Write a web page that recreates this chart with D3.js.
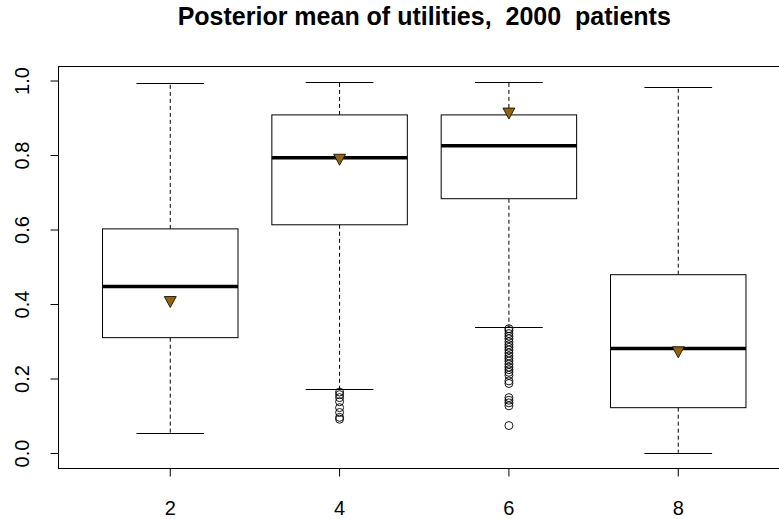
<!DOCTYPE html>
<html><head><meta charset="utf-8">
<script src="https://cdn.jsdelivr.net/npm/d3@7"></script>
<style>body{margin:0;background:#fff}svg{display:block}</style>
</head><body>
<script>
const title = "Posterior mean of utilities,  2000  patients";
const positions = [2, 4, 6, 8];
const whiskLow = [0.056, 0.172, 0.340, 0.002];
const q1 = [0.311, 0.614, 0.684, 0.123];
const median = [0.448, 0.794, 0.826, 0.282];
const q3 = [0.603, 0.909, 0.909, 0.480];
const whiskHigh = [0.995, 0.997, 0.997, 0.984];
const means = [0.408, 0.790, 0.914, 0.273];
const outliers = [
  [],
  [0.165, 0.158, 0.150, 0.139, 0.123, 0.110, 0.097, 0.092],
  [0.335, 0.330, 0.322, 0.315, 0.308, 0.300, 0.292, 0.285, 0.278, 0.270, 0.262, 0.255, 0.248, 0.240, 0.232, 0.225, 0.218, 0.210, 0.195, 0.188, 0.150, 0.143, 0.136, 0.128, 0.075],
  []
];
const yTicks = [0, 0.2, 0.4, 0.6, 0.8, 1.0];
const xTicks = [2, 4, 6, 8];

const W = 779, H = 519;
const FONT = "Liberation Sans, Arial, sans-serif";
const svg = d3.select("body").append("svg").attr("width", W).attr("height", H);
const x = d3.scaleLinear().domain([0.68, 9.32]).range([58.5, 790]);
const y = d3.scaleLinear().domain([0, 1]).range([453.5, 81]);
const plotTop = y(1.04), plotBottom = y(-0.04);
const boxW = 1.6, capW = 0.8;

svg.append("text").attr("x", (58.5 + 790) / 2).attr("y", 24.5).attr("text-anchor", "middle")
  .attr("font-family", FONT).attr("font-weight", "bold").style("white-space", "pre")
  .attr("font-size", 25).text(title);

const g = svg.append("g");
positions.forEach((p, i) => {
  const cx = x(p);
  g.append("line").attr("x1", cx).attr("x2", cx).attr("y1", y(q3[i])).attr("y2", y(whiskHigh[i]))
    .attr("stroke", "#000").attr("stroke-dasharray", "4,3");
  g.append("line").attr("x1", cx).attr("x2", cx).attr("y1", y(q1[i])).attr("y2", y(whiskLow[i]))
    .attr("stroke", "#000").attr("stroke-dasharray", "4,3");
  [whiskHigh[i], whiskLow[i]].forEach(v => {
    g.append("line").attr("x1", x(p - capW / 2)).attr("x2", x(p + capW / 2))
      .attr("y1", Math.round(y(v)) + 0.5).attr("y2", Math.round(y(v)) + 0.5).attr("stroke", "#000");
  });
  g.append("rect").attr("x", x(p - boxW / 2)).attr("width", x(p + boxW / 2) - x(p - boxW / 2))
    .attr("y", y(q3[i])).attr("height", y(q1[i]) - y(q3[i]))
    .attr("fill", "#fff").attr("stroke", "#000");
  g.append("line").attr("x1", x(p - boxW / 2)).attr("x2", x(p + boxW / 2))
    .attr("y1", y(median[i])).attr("y2", y(median[i])).attr("stroke", "#000").attr("stroke-width", 3.5);
  outliers[i].forEach(v => {
    g.append("circle").attr("cx", cx).attr("cy", y(v)).attr("r", 4)
      .attr("fill", "none").attr("stroke", "#000").attr("stroke-width", 0.9);
  });
  const my = y(means[i]);
  g.append("path").attr("d", `M${cx - 6},${my - 5} L${cx + 6},${my - 5} L${cx},${my + 6} Z`)
    .attr("fill", "#966400").attr("stroke", "#000").attr("stroke-width", 0.8);
});

svg.append("rect").attr("x", 58.5).attr("y", Math.round(plotTop) + 0.5)
  .attr("width", 790 - 58.5).attr("height", Math.round(plotBottom) - Math.round(plotTop))
  .attr("fill", "none").attr("stroke", "#000");

const ya = svg.append("g").attr("transform", "translate(58.5,0)");
yTicks.forEach(t => {
  ya.append("line").attr("x1", -8).attr("x2", 0).attr("y1", y(t)).attr("y2", y(t)).attr("stroke", "#000");
  ya.append("text").attr("transform", `translate(-37,${y(t)}) rotate(-90)`)
    .attr("text-anchor", "middle").attr("dy", "0.35em")
    .attr("font-family", FONT).attr("font-size", 20)
    .text(d3.format(".1f")(t));
});
const xa = svg.append("g").attr("transform", `translate(0,${Math.round(plotBottom) + 0.5})`);
xTicks.forEach(t => {
  xa.append("line").attr("x1", x(t)).attr("x2", x(t)).attr("y1", 0).attr("y2", 8).attr("stroke", "#000");
  xa.append("text").attr("x", x(t)).attr("y", 46).attr("text-anchor", "middle")
    .attr("font-family", FONT).attr("font-size", 20).text(t);
});
</script>
</body></html>
